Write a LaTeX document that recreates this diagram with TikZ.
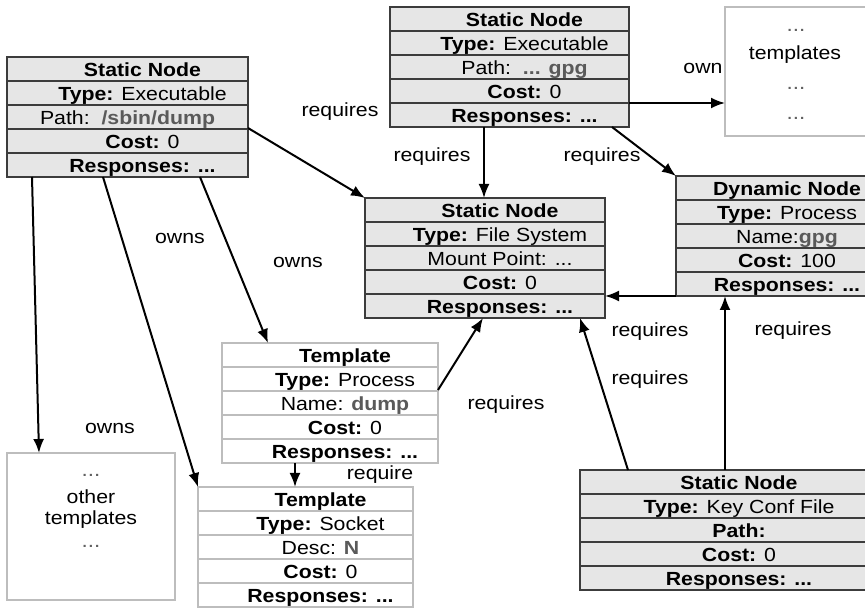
\documentclass[tikz,border=0pt]{standalone}
\usepackage{fontspec}
\setmainfont{Liberation Sans}[FakeStretch=1.12]
\usetikzlibrary{arrows.meta}

\definecolor{boxfill}{HTML}{E6E6E6}
\definecolor{boxline}{HTML}{3C3C3C}
\definecolor{tplline}{HTML}{BDBDBD}
\definecolor{valgray}{HTML}{5A5A5A}
\definecolor{dotgray}{HTML}{606060}

\newcommand\val[1]{\textbf{\color{valgray}#1}}
\newcommand\ddd{{\color{dotgray}\fontsize{20}{20}\selectfont ...}}

\tikzset{
  every node/.style={font=\fontsize{19}{21}\selectfont, inner sep=0pt, outer sep=0pt},
  statbox/.style={draw=boxline, fill=boxfill, line width=1.5pt, minimum height=120pt, anchor=north west},
  tplbox/.style={draw=tplline, fill=white, line width=1.3pt, minimum height=120pt, anchor=north west},
  listbox/.style={draw=tplline, fill=white, line width=1.3pt, anchor=north west},
  statsep/.style={draw=boxline, line width=1.5pt},
  tplsep/.style={draw=tplline, line width=1.3pt},
  rowtext/.style={anchor=base},
  link/.style={line width=2pt, -{Latex[length=14pt,width=11pt]}},
}

% five-row record: separators plus one text node per row
\newcommand\rows[7]{%
  \foreach \k in {1,2,3,4}
    \draw[#2] ([yshift=-\k*24pt]#1.north west) -- ([yshift=-\k*24pt]#1.north east);
  \node[rowtext] (#1-r1) at ([xshift=15pt,yshift=-19.5pt]#1.north) {#3};
  \node[rowtext] (#1-r2) at ([xshift=15pt,yshift=-43.5pt]#1.north) {#4};
  \node[rowtext] (#1-r3) at ([xshift=15pt,yshift=-67.5pt]#1.north) {#5};
  \node[rowtext] (#1-r4) at ([xshift=15pt,yshift=-91.5pt]#1.north) {#6};
  \node[rowtext] (#1-r5) at ([xshift=15pt,yshift=-115.5pt]#1.north) {#7};
}

\begin{document}
\begin{tikzpicture}[x=1pt,y=1pt]
\useasboundingbox (0,0) rectangle (865,608);
\clip (0,0) rectangle (865,608);

% executable /sbin/dump
\node[statbox, minimum width=241pt] (A) at (7,551) {};
\rows{A}{statsep}{\textbf{Static Node}}{\textbf{Type:} Executable}
  {Path:\ \ \val{/sbin/dump}\hspace*{30pt}}{\textbf{Cost:} 0}{\textbf{Responses: ...}}

% executable gpg
\node[statbox, minimum width=239pt] (B) at (390,601) {};
\rows{B}{statsep}{\textbf{Static Node}}{\textbf{Type:} Executable}
  {Path:\ \ \val{... gpg}}{\textbf{Cost:} 0}{\textbf{Responses: ...}}

% file system
\node[statbox, minimum width=240pt] (C) at (365,410) {};
\rows{C}{statsep}{\textbf{Static Node}}{\textbf{Type:} File System}
  {Mount Point: ...}{\textbf{Cost:} 0}{\textbf{Responses: ...}}

% running gpg process
\node[statbox, minimum width=192pt] (D) at (676,432) {};
\rows{D}{statsep}{\textbf{Dynamic Node}}{\textbf{Type:} Process}
  {Name:\val{gpg}}{\textbf{Cost:} 100}{\textbf{Responses: ...}}

% key configuration file
\node[statbox, minimum width=288pt] (K) at (580,138) {};
\rows{K}{statsep}{\textbf{Static Node}}{\textbf{Type:} Key Conf File}
  {\textbf{Path:}}{\textbf{Cost:} 0}{\textbf{Responses: ...}}

% process template
\node[tplbox, minimum width=216pt] (T1) at (222,265) {};
\rows{T1}{tplsep}{\textbf{Template}}{\textbf{Type:} Process}
  {Name: \val{dump}}{\textbf{Cost:} 0}{\textbf{Responses: ...}}

% socket template
\node[tplbox, minimum width=215pt] (T2) at (198,121) {};
\rows{T2}{tplsep}{\textbf{Template}}{\textbf{Type:} Socket}
  {Desc: \val{N}}{\textbf{Cost:} 0}{\textbf{Responses: ...}}

% template collections
\node[listbox, minimum width=141pt, minimum height=129pt] (TB) at (725,601) {};
\node (TB-a) at (796,578) {\ddd};
\node (TB-b) at (795,553) {templates};
\node (TB-c) at (796,520) {\ddd};
\node (TB-d) at (796,490) {\ddd};

\node[listbox, minimum width=168pt, minimum height=147pt] (OT) at (7,155) {};
\node (OT-a) at (91,133) {\ddd};
\node (OT-b) at (91,111) {other};
\node (OT-c) at (91,88) {templates};
\node (OT-d) at (91,62) {\ddd};

% relations
\draw[link] ([xshift=25pt]A.south west) -- ([xshift=32pt]OT.north west);
\draw[link] ([xshift=96pt]A.south west) -- (T2.north west);
\draw[link] ([xshift=193pt]A.south west) -- ([xshift=46pt]T1.north west);
\draw[link] ([yshift=-71pt]A.north east) -- (C.north west);
\draw[link] ([xshift=94pt]B.south west) -- ([xshift=119pt]C.north west);
\draw[link] ([xshift=222pt]B.south west) -- (D.north west);
\draw[link] ([yshift=-96pt]B.north east) -- ([yshift=-96pt]TB.north west);
\draw[link] (D.south west) -- (C.east |- D.south west);
\draw[link] ([yshift=-47pt]T1.north east) -- ([xshift=118pt]C.south west);
\draw[link] ([xshift=73pt]T1.south west) -- ([xshift=97pt]T2.north west);
\draw[link] ([xshift=48pt]K.north west) -- ([xshift=215pt]C.south west);
\draw[link] ([xshift=145pt]K.north west) -- ([xshift=49pt]D.south west);

% relation labels
\node (l1) at (340,496) {requires};
\node (l2) at (432,451) {requires};
\node (l3) at (602,451) {requires};
\node (l4) at (703,540) {own};
\node (l5) at (180,370) {owns};
\node (l6) at (298,346) {owns};
\node (l7) at (110,180) {owns};
\node (l8) at (506,203) {requires};
\node (l9) at (380,133) {require};
\node (l10) at (650,276) {requires};
\node (l11) at (650,228) {requires};
\node (l12) at (793,277) {requires};
\end{tikzpicture}
\end{document}
